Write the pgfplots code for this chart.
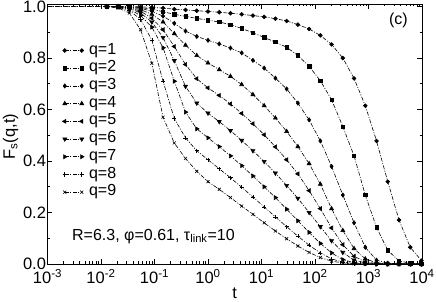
\documentclass[border=0pt]{standalone}
\usepackage{pgfplots}
\pgfplotsset{compat=1.18}
\usepackage{pgfplotstable}
\usepackage{fontspec}
\setmainfont{Liberation Sans}

\pgfplotstableread{
t        q1    q2    q3    q4    q5    q6    q7    q8    q9
0.001    1     1     1     1     1     1     1     1     1
0.012882 1.0   1.0   1.0   1.0   1.0   1.0   1.0   1.0   1.0
0.020893 1.0   1.0   1.0   1.0   0.999 0.999 0.998 0.997 0.995
0.033884 1.0   0.999 0.998 0.997 0.995 0.993 0.99  0.985 0.975
0.054954 0.999 0.996 0.993 0.988 0.982 0.975 0.965 0.95  0.91
0.089125 0.997 0.99  0.982 0.97  0.955 0.94  0.92  0.87  0.78
0.144544 0.994 0.98  0.963 0.94  0.91  0.88  0.84  0.71  0.57
0.234423 0.99  0.97  0.935 0.895 0.845 0.79  0.71  0.565 0.47
0.380189 0.987 0.962 0.905 0.85  0.775 0.69  0.59  0.49  0.41
0.616595 0.984 0.954 0.884 0.81  0.72  0.625 0.525 0.44  0.36
1        0.981 0.947 0.869 0.781 0.684 0.586 0.49  0.405 0.32
1.62181  0.978 0.940 0.855 0.755 0.655 0.553 0.456 0.37  0.29
2.630268 0.974 0.930 0.839 0.729 0.622 0.518 0.42  0.335 0.258
4.265795 0.970 0.915 0.820 0.697 0.585 0.480 0.382 0.298 0.225
6.91831  0.965 0.898 0.791 0.658 0.545 0.440 0.342 0.26  0.193
11.22018 0.960 0.880 0.761 0.615 0.502 0.398 0.30  0.222 0.16
18.19701 0.953 0.862 0.722 0.567 0.455 0.353 0.258 0.183 0.128
29.51209 0.944 0.842 0.680 0.515 0.405 0.305 0.213 0.145 0.098
47.86301 0.930 0.810 0.625 0.456 0.35  0.255 0.168 0.108 0.07
77.62471 0.913 0.768 0.560 0.39  0.285 0.20  0.123 0.073 0.045
125.8925 0.888 0.712 0.478 0.31  0.215 0.145 0.08  0.043 0.025
204.1738 0.853 0.638 0.379 0.215 0.14  0.09  0.043 0.02  0.011
331.1311 0.800 0.534 0.268 0.13  0.075 0.045 0.017 0.007 0.004
537.0318 0.721 0.420 0.160 0.06  0.03  0.015 0.005 0.002 0.001
870.9636 0.615 0.268 0.065 0.02  0.008 0.004 0.001 0     0
1412.538 0.478 0.142 0.015 0.005 0.002 0.001 0     0     0
2290.868 0.320 0.053 0.003 0.001 0     0     0     0     0
3715.352 0.171 0.012 0.001 0     0     0     0     0     0
6025.596 0.065 0.003 0     0     0     0     0     0     0
9772.372 0.013 0.001 0     0     0     0     0     0     0
}\datatable

\begin{document}
\begin{tikzpicture}
\begin{axis}[
  scale only axis, width=374.5pt, height=260pt,
  xmode=log, xmin=1e-3, xmax=1e4, ymin=0, ymax=1.01,
  xtick={1e-3,1e-2,1e-1,1,10,100,1000,10000},
  xticklabels={10\textsuperscript{-3},10\textsuperscript{-2},10\textsuperscript{-1},10\textsuperscript{0},10\textsuperscript{1},10\textsuperscript{2},10\textsuperscript{3},10\textsuperscript{4}},
  minor xtick={2e-3,3e-3,4e-3,5e-3,6e-3,7e-3,8e-3,9e-3,
    2e-2,3e-2,4e-2,5e-2,6e-2,7e-2,8e-2,9e-2,
    0.2,0.3,0.4,0.5,0.6,0.7,0.8,0.9,
    2,3,4,5,6,7,8,9,20,30,40,50,60,70,80,90,
    200,300,400,500,600,700,800,900,2000,3000,4000,5000,6000,7000,8000,9000},
  ytick={0,0.2,0.4,0.6,0.8,1.0},
  yticklabels={0.0,0.2,0.4,0.6,0.8,1.0},
  minor ytick={0.1,0.3,0.5,0.7,0.9},
  tick align=inside,
  major tick length=5pt, minor tick length=2.5pt,
  every tick/.style={black, line width=0.6pt},
  axis line style={line width=0.8pt},
  ticklabel style={font=\fontsize{16.5}{19}\selectfont},
  xticklabel style={yshift=-2pt},
  yticklabel style={xshift=2pt},
  xlabel={t}, ylabel={F\textsubscript{s}(q,t)},
  label style={font=\fontsize{16.5}{19}\selectfont},
  xlabel style={at={(rel axis cs:0.5,0)}, anchor=center, yshift=-29pt},
  ylabel style={at={(rel axis cs:0,0.49)}, anchor=center, yshift=37pt},
  legend cell align=left,
  legend style={draw=none, fill=none, at={(rel axis cs:0.04,0.855)}, anchor=north west,
    inner sep=0pt, outer sep=0pt, row sep=0pt, column sep=4pt,
    font=\fontsize{16}{19}\selectfont,
    nodes={inner sep=1pt, text height=11.5pt, text depth=4.2pt}},
  legend image code/.code={\draw[#1, mark repeat=1, mark phase=1] plot coordinates {(0pt,0pt) (17pt,0pt)};},
  every axis plot/.append style={black, line width=0.6pt,
    dash pattern=on 4pt off 1.5pt on 1pt off 1.5pt, mark repeat=1, mark phase=2},
]
\addplot[mark=*, mark size=1.9pt, mark options={solid}] table[x=t,y=q1]{\datatable};
\addlegendentry{q=1}
\addplot[mark=square*, mark size=1.7pt, mark options={solid}] table[x=t,y=q2]{\datatable};
\addlegendentry{q=2}
\addplot[mark=diamond*, mark size=2.1pt, mark options={solid}] table[x=t,y=q3]{\datatable};
\addlegendentry{q=3}
\addplot[mark=triangle*, mark size=2.3pt, mark options={solid}] table[x=t,y=q4]{\datatable};
\addlegendentry{q=4}
\addplot[mark=triangle*, mark size=2.3pt, mark options={solid, rotate=90}] table[x=t,y=q5]{\datatable};
\addlegendentry{q=5}
\addplot[mark=triangle*, mark size=2.3pt, mark options={solid, rotate=180}] table[x=t,y=q6]{\datatable};
\addlegendentry{q=6}
\addplot[mark=triangle*, mark size=2.3pt, mark options={solid, rotate=-90}] table[x=t,y=q7]{\datatable};
\addlegendentry{q=7}
\addplot[mark=+, mark size=2.1pt, mark options={solid}] table[x=t,y=q8]{\datatable};
\addlegendentry{q=8}
\addplot[mark=x, mark size=2.1pt, mark options={solid}] table[x=t,y=q9]{\datatable};
\addlegendentry{q=9}
\node[anchor=base west, inner sep=0pt, font=\fontsize{16}{19}\selectfont] at (rel axis cs:0.0654,0.0923) {R=6.3, φ=0.61, τ\textsubscript{link}=10};
\node[anchor=base east, inner sep=0pt, font=\fontsize{16}{19}\selectfont] at (rel axis cs:0.9626,0.923) {(c)};
\coordinate (A) at (rel axis cs:0,0);
\coordinate (B) at (rel axis cs:1,1);
\end{axis}
\pgfresetboundingbox
\path ([xshift=-47.5pt,yshift=-38pt]A) rectangle ([xshift=14pt,yshift=4pt]B);
\end{tikzpicture}
\end{document}
